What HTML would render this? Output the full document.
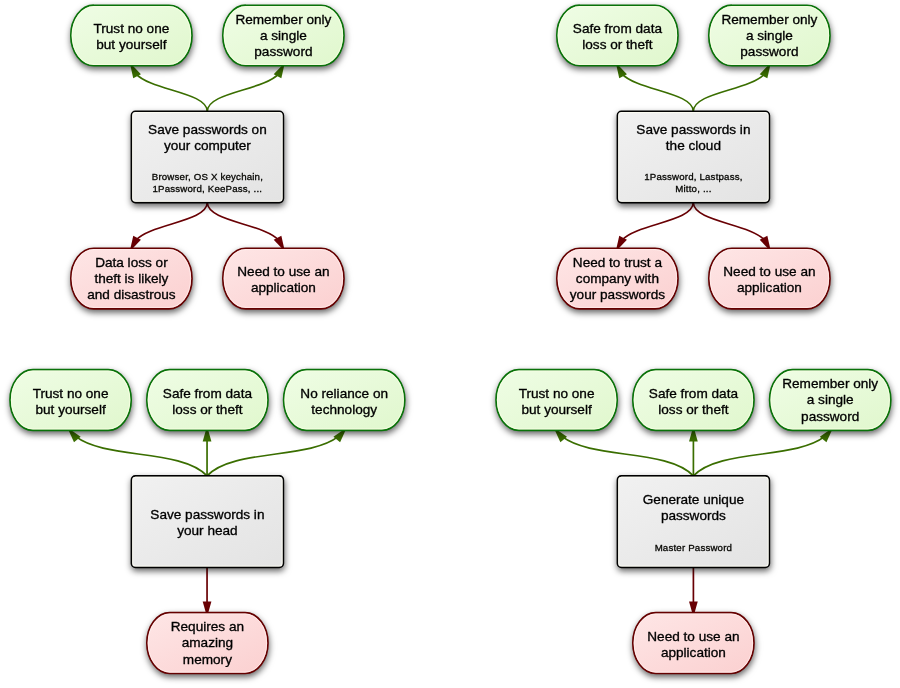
<!DOCTYPE html>
<html><head><meta charset="utf-8"><title>Password storage options</title><style>
html,body{margin:0;padding:0;background:#fff;}
body{width:900px;height:688px;overflow:hidden;}
svg{display:block;}
text{font-family:"Liberation Sans", sans-serif;font-size:13.6px;fill:#000;stroke:#000;stroke-width:0.33px;text-anchor:middle;}
.tx{opacity:0.999;}
text.s{font-size:9.7px;letter-spacing:0.18px;fill:#050500;stroke:#050500;stroke-width:0.3px;}
</style></head><body>
<svg width="900" height="688" viewBox="0 0 900 688">
<defs>
<filter id="sh" x="-20%" y="-30%" width="150%" height="170%" color-interpolation-filters="sRGB">
<feDropShadow dx="0.6" dy="3" stdDeviation="3.4" flood-color="#000" flood-opacity="0.6"/>
</filter>
<linearGradient id="gG" x1="0" y1="0" x2="1" y2="1"><stop offset="0" stop-color="#effde5"/><stop offset="1" stop-color="#e0f7cd"/></linearGradient>
<linearGradient id="gR" x1="0" y1="0" x2="1" y2="1"><stop offset="0" stop-color="#fee6e6"/><stop offset="1" stop-color="#fbd0d0"/></linearGradient>
<linearGradient id="gB" x1="0" y1="0" x2="1" y2="1"><stop offset="0" stop-color="#f1f1f1"/><stop offset="1" stop-color="#e3e3e3"/></linearGradient>
</defs>
<rect width="900" height="688" fill="#fff"/>
<path d="M207.30,111.30C206.85,91.94 151.17,90.63 135.63,73.58" fill="none" stroke="#3a6e00" stroke-width="1.65"/>
<path d="M129.73,62.44L140.92,74.15L133.25,78.25Z" fill="#3a6e00"/>
<path d="M207.30,202.60C206.85,221.96 151.17,223.27 135.63,240.32" fill="none" stroke="#690004" stroke-width="1.65"/>
<path d="M129.73,251.46L133.25,235.65L140.92,239.75Z" fill="#690004"/>
<path d="M207.30,111.30C207.75,91.94 263.43,90.63 278.97,73.58" fill="none" stroke="#3a6e00" stroke-width="1.65"/>
<path d="M284.87,62.44L281.35,78.25L273.68,74.15Z" fill="#3a6e00"/>
<path d="M207.30,202.60C207.75,221.96 263.43,223.27 278.97,240.32" fill="none" stroke="#690004" stroke-width="1.65"/>
<path d="M284.87,251.46L273.68,239.75L281.35,235.65Z" fill="#690004"/>
<rect x="70.80" y="5.20" width="121.20" height="60.60" rx="23" ry="30.30" fill="url(#gG)" stroke="#097209" stroke-width="1.65" filter="url(#sh)"/>
<rect x="72.20" y="6.60" width="118.40" height="57.80" rx="21.6" ry="28.90" fill="none" stroke="#fbffe4" stroke-width="0.8" opacity="0.9"/>
<rect x="222.80" y="5.20" width="121.20" height="60.60" rx="23" ry="30.30" fill="url(#gG)" stroke="#097209" stroke-width="1.65" filter="url(#sh)"/>
<rect x="224.20" y="6.60" width="118.40" height="57.80" rx="21.6" ry="28.90" fill="none" stroke="#fbffe4" stroke-width="0.8" opacity="0.9"/>
<rect x="70.80" y="248.20" width="121.20" height="60.60" rx="23" ry="30.30" fill="url(#gR)" stroke="#650000" stroke-width="1.65" filter="url(#sh)"/>
<rect x="72.20" y="249.60" width="118.40" height="57.80" rx="21.6" ry="28.90" fill="none" stroke="#fff0ee" stroke-width="0.8" opacity="0.9"/>
<rect x="222.80" y="248.20" width="121.20" height="60.60" rx="23" ry="30.30" fill="url(#gR)" stroke="#650000" stroke-width="1.65" filter="url(#sh)"/>
<rect x="224.20" y="249.60" width="118.40" height="57.80" rx="21.6" ry="28.90" fill="none" stroke="#fff0ee" stroke-width="0.8" opacity="0.9"/>
<rect x="131.40" y="111.30" width="152.00" height="91.30" rx="4" ry="4" fill="url(#gB)" stroke="#000" stroke-width="1.6" filter="url(#sh)"/>
<rect x="132.70" y="112.60" width="149.40" height="88.70" rx="3" ry="3" fill="none" stroke="#fffff2" stroke-width="0.8"/>
<path d="M693.30,111.30C692.85,91.94 637.17,90.63 621.63,73.58" fill="none" stroke="#3a6e00" stroke-width="1.65"/>
<path d="M615.73,62.44L626.92,74.15L619.25,78.25Z" fill="#3a6e00"/>
<path d="M693.30,202.60C692.85,221.96 637.17,223.27 621.63,240.32" fill="none" stroke="#690004" stroke-width="1.65"/>
<path d="M615.73,251.46L619.25,235.65L626.92,239.75Z" fill="#690004"/>
<path d="M693.30,111.30C693.75,91.94 749.43,90.63 764.97,73.58" fill="none" stroke="#3a6e00" stroke-width="1.65"/>
<path d="M770.87,62.44L767.35,78.25L759.68,74.15Z" fill="#3a6e00"/>
<path d="M693.30,202.60C693.75,221.96 749.43,223.27 764.97,240.32" fill="none" stroke="#690004" stroke-width="1.65"/>
<path d="M770.87,251.46L759.68,239.75L767.35,235.65Z" fill="#690004"/>
<rect x="556.80" y="5.20" width="121.20" height="60.60" rx="23" ry="30.30" fill="url(#gG)" stroke="#097209" stroke-width="1.65" filter="url(#sh)"/>
<rect x="558.20" y="6.60" width="118.40" height="57.80" rx="21.6" ry="28.90" fill="none" stroke="#fbffe4" stroke-width="0.8" opacity="0.9"/>
<rect x="708.80" y="5.20" width="121.20" height="60.60" rx="23" ry="30.30" fill="url(#gG)" stroke="#097209" stroke-width="1.65" filter="url(#sh)"/>
<rect x="710.20" y="6.60" width="118.40" height="57.80" rx="21.6" ry="28.90" fill="none" stroke="#fbffe4" stroke-width="0.8" opacity="0.9"/>
<rect x="556.80" y="248.20" width="121.20" height="60.60" rx="23" ry="30.30" fill="url(#gR)" stroke="#650000" stroke-width="1.65" filter="url(#sh)"/>
<rect x="558.20" y="249.60" width="118.40" height="57.80" rx="21.6" ry="28.90" fill="none" stroke="#fff0ee" stroke-width="0.8" opacity="0.9"/>
<rect x="708.80" y="248.20" width="121.20" height="60.60" rx="23" ry="30.30" fill="url(#gR)" stroke="#650000" stroke-width="1.65" filter="url(#sh)"/>
<rect x="710.20" y="249.60" width="118.40" height="57.80" rx="21.6" ry="28.90" fill="none" stroke="#fff0ee" stroke-width="0.8" opacity="0.9"/>
<rect x="617.40" y="111.30" width="152.00" height="91.30" rx="4" ry="4" fill="url(#gB)" stroke="#000" stroke-width="1.6" filter="url(#sh)"/>
<rect x="618.70" y="112.60" width="149.40" height="88.70" rx="3" ry="3" fill="none" stroke="#fffff2" stroke-width="0.8"/>
<path d="M207.05,475.90C181.17,448.61 105.21,459.44 75.94,436.72" fill="none" stroke="#3a6e00" stroke-width="1.65"/>
<path d="M67.29,427.58L80.66,436.71L74.01,442.32Z" fill="#3a6e00"/>
<path d="M207.05,475.90C232.93,448.61 308.89,459.44 338.16,436.72" fill="none" stroke="#3a6e00" stroke-width="1.65"/>
<path d="M346.81,427.58L340.09,442.32L333.44,436.71Z" fill="#3a6e00"/>
<path d="M207.05,475.90L207.05,438.50" fill="none" stroke="#3a6e00" stroke-width="1.7"/>
<path d="M207.05,425.90L211.40,441.50L202.70,441.50Z" fill="#3a6e00"/>
<path d="M207.05,567.40L207.05,604.40" fill="none" stroke="#690004" stroke-width="1.7"/>
<path d="M207.05,617.00L202.70,601.40L211.40,601.40Z" fill="#690004"/>
<rect x="10.00" y="369.60" width="121.20" height="60.70" rx="23" ry="30.35" fill="url(#gG)" stroke="#097209" stroke-width="1.65" filter="url(#sh)"/>
<rect x="11.40" y="371.00" width="118.40" height="57.90" rx="21.6" ry="28.95" fill="none" stroke="#fbffe4" stroke-width="0.8" opacity="0.9"/>
<rect x="146.80" y="369.60" width="121.20" height="60.70" rx="23" ry="30.35" fill="url(#gG)" stroke="#097209" stroke-width="1.65" filter="url(#sh)"/>
<rect x="148.20" y="371.00" width="118.40" height="57.90" rx="21.6" ry="28.95" fill="none" stroke="#fbffe4" stroke-width="0.8" opacity="0.9"/>
<rect x="283.60" y="369.60" width="121.20" height="60.70" rx="23" ry="30.35" fill="url(#gG)" stroke="#097209" stroke-width="1.65" filter="url(#sh)"/>
<rect x="285.00" y="371.00" width="118.40" height="57.90" rx="21.6" ry="28.95" fill="none" stroke="#fbffe4" stroke-width="0.8" opacity="0.9"/>
<rect x="146.80" y="612.60" width="121.20" height="60.90" rx="23" ry="30.45" fill="url(#gR)" stroke="#650000" stroke-width="1.65" filter="url(#sh)"/>
<rect x="148.20" y="614.00" width="118.40" height="58.10" rx="21.6" ry="29.05" fill="none" stroke="#fff0ee" stroke-width="0.8" opacity="0.9"/>
<rect x="131.40" y="475.90" width="152.00" height="91.50" rx="4" ry="4" fill="url(#gB)" stroke="#000" stroke-width="1.6" filter="url(#sh)"/>
<rect x="132.70" y="477.20" width="149.40" height="88.90" rx="3" ry="3" fill="none" stroke="#fffff2" stroke-width="0.8"/>
<path d="M693.40,475.90C667.52,448.61 591.56,459.44 562.29,436.72" fill="none" stroke="#3a6e00" stroke-width="1.65"/>
<path d="M553.64,427.58L567.01,436.71L560.36,442.32Z" fill="#3a6e00"/>
<path d="M693.40,475.90C719.28,448.61 795.24,459.44 824.51,436.72" fill="none" stroke="#3a6e00" stroke-width="1.65"/>
<path d="M833.16,427.58L826.44,442.32L819.79,436.71Z" fill="#3a6e00"/>
<path d="M693.40,475.90L693.40,438.50" fill="none" stroke="#3a6e00" stroke-width="1.7"/>
<path d="M693.40,425.90L697.75,441.50L689.05,441.50Z" fill="#3a6e00"/>
<path d="M693.40,567.40L693.40,604.40" fill="none" stroke="#690004" stroke-width="1.7"/>
<path d="M693.40,617.00L689.05,601.40L697.75,601.40Z" fill="#690004"/>
<rect x="496.00" y="369.60" width="121.20" height="60.70" rx="23" ry="30.35" fill="url(#gG)" stroke="#097209" stroke-width="1.65" filter="url(#sh)"/>
<rect x="497.40" y="371.00" width="118.40" height="57.90" rx="21.6" ry="28.95" fill="none" stroke="#fbffe4" stroke-width="0.8" opacity="0.9"/>
<rect x="632.80" y="369.60" width="121.20" height="60.70" rx="23" ry="30.35" fill="url(#gG)" stroke="#097209" stroke-width="1.65" filter="url(#sh)"/>
<rect x="634.20" y="371.00" width="118.40" height="57.90" rx="21.6" ry="28.95" fill="none" stroke="#fbffe4" stroke-width="0.8" opacity="0.9"/>
<rect x="769.60" y="369.60" width="121.20" height="60.70" rx="23" ry="30.35" fill="url(#gG)" stroke="#097209" stroke-width="1.65" filter="url(#sh)"/>
<rect x="771.00" y="371.00" width="118.40" height="57.90" rx="21.6" ry="28.95" fill="none" stroke="#fbffe4" stroke-width="0.8" opacity="0.9"/>
<rect x="632.80" y="612.60" width="121.20" height="60.90" rx="23" ry="30.45" fill="url(#gR)" stroke="#650000" stroke-width="1.65" filter="url(#sh)"/>
<rect x="634.20" y="614.00" width="118.40" height="58.10" rx="21.6" ry="29.05" fill="none" stroke="#fff0ee" stroke-width="0.8" opacity="0.9"/>
<rect x="617.40" y="475.90" width="152.00" height="91.50" rx="4" ry="4" fill="url(#gB)" stroke="#000" stroke-width="1.6" filter="url(#sh)"/>
<rect x="618.70" y="477.20" width="149.40" height="88.90" rx="3" ry="3" fill="none" stroke="#fffff2" stroke-width="0.8"/>
<g class="tx">
<text x="131.40" y="33.10">Trust no one</text>
<text x="131.40" y="49.30">but yourself</text>
<text x="283.40" y="23.70">Remember only</text>
<text x="283.40" y="39.90">a single</text>
<text x="283.40" y="56.10">password</text>
<text x="131.40" y="266.70">Data loss or</text>
<text x="131.40" y="282.90">theft is likely</text>
<text x="131.40" y="299.10">and disastrous</text>
<text x="283.40" y="276.10">Need to use an</text>
<text x="283.40" y="292.30">application</text>
<text x="207.40" y="133.70">Save passwords on</text>
<text x="207.40" y="150.00">your computer</text>
<text x="207.40" y="180.30" class="s">Browser, OS X keychain,</text>
<text x="207.40" y="192.20" class="s">1Password, KeePass, ...</text>
<text x="617.40" y="33.10">Safe from data</text>
<text x="617.40" y="49.30">loss or theft</text>
<text x="769.40" y="23.70">Remember only</text>
<text x="769.40" y="39.90">a single</text>
<text x="769.40" y="56.10">password</text>
<text x="617.40" y="266.70">Need to trust a</text>
<text x="617.40" y="282.90">company with</text>
<text x="617.40" y="299.10">your passwords</text>
<text x="769.40" y="276.10">Need to use an</text>
<text x="769.40" y="292.30">application</text>
<text x="693.40" y="133.70">Save passwords in</text>
<text x="693.40" y="150.00">the cloud</text>
<text x="693.40" y="180.30" class="s">1Password, Lastpass,</text>
<text x="693.40" y="192.20" class="s">Mitto, ...</text>
<text x="70.60" y="397.55">Trust no one</text>
<text x="70.60" y="413.75">but yourself</text>
<text x="207.40" y="397.55">Safe from data</text>
<text x="207.40" y="413.75">loss or theft</text>
<text x="344.20" y="397.55">No reliance on</text>
<text x="344.20" y="413.75">technology</text>
<text x="207.40" y="631.25">Requires an</text>
<text x="207.40" y="647.45">amazing</text>
<text x="207.40" y="663.65">memory</text>
<text x="207.40" y="518.50">Save passwords in</text>
<text x="207.40" y="534.70">your head</text>
<text x="556.60" y="397.55">Trust no one</text>
<text x="556.60" y="413.75">but yourself</text>
<text x="693.40" y="397.55">Safe from data</text>
<text x="693.40" y="413.75">loss or theft</text>
<text x="830.20" y="388.15">Remember only</text>
<text x="830.20" y="404.35">a single</text>
<text x="830.20" y="420.55">password</text>
<text x="693.40" y="640.65">Need to use an</text>
<text x="693.40" y="656.85">application</text>
<text x="693.40" y="504.00">Generate unique</text>
<text x="693.40" y="520.30">passwords</text>
<text x="693.40" y="550.70" class="s">Master Password</text>
</g>
</svg>
</body></html>
